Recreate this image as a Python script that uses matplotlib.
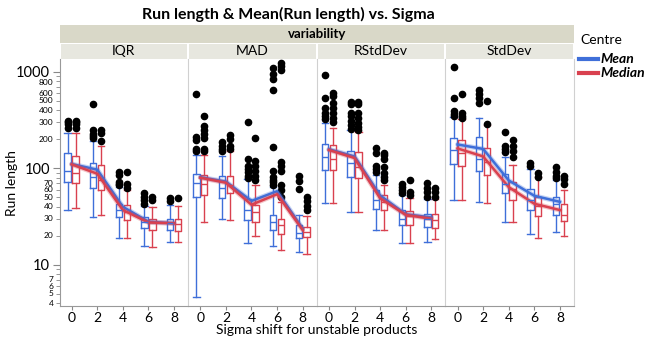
import matplotlib
matplotlib.use('Agg')
import matplotlib.pyplot as plt
from matplotlib.patches import Rectangle
from matplotlib.ticker import FixedLocator, NullFormatter

plt.rcParams['font.family'] = ['Lato', 'DejaVu Sans']

sigma = [0, 2, 4, 6, 8]
panels = ['IQR', 'MAD', 'RStdDev', 'StdDev']

# box stats for each sigma: (whisker low, q1, median, q3, whisker high)
iqr_mean_box = [(37, 73, 94, 145, 232), (31, 63, 82, 114, 193), (19, 31, 37, 43, 64),
                (15.7, 24, 27.5, 31, 41), (17.4, 23, 27, 30, 42)]
iqr_median_box = [(39, 71, 90, 133, 232), (33, 60, 76, 108, 169), (19, 29, 35, 42, 59),
                  (15.5, 23, 27.5, 30, 40), (17.2, 22.7, 26.4, 30, 41)]
mad_mean_box = [(4.6, 51, 71, 88, 136), (30, 49, 62, 83, 135), (16.7, 29, 37, 48, 77),
                (15.7, 23, 28, 33, 64), (13.5, 18.8, 21.5, 26, 33)]
mad_median_box = [(27.5, 53, 69, 86, 138), (29, 55, 67, 83, 150), (20, 28, 35, 42, 68),
                  (14.3, 21, 26, 30, 45), (13, 19.3, 21.7, 24.5, 32)]
rsd_mean_box = [(44, 97, 132, 179, 298), (35, 81, 114, 153, 249), (23, 38, 47, 60, 86),
                (17, 26, 30, 37, 53), (17.4, 24.5, 30, 34, 48)]
rsd_median_box = [(44, 97, 125, 175, 261), (35, 80, 103, 149, 239), (23, 37, 45, 53, 68),
                  (17, 26, 32, 36, 49), (18.4, 24, 29, 34, 48)]
sd_mean_box = [(47, 110, 156, 206, 341), (45, 95, 125, 210, 336), (27.5, 56, 69, 88, 132),
               (21, 37, 47, 61.5, 99), (22, 33, 42.5, 51, 75)]
sd_median_box = [(47, 105, 143, 196, 328), (44, 86, 116, 161, 281), (27.5, 47, 61.5, 72, 109),
                 (18.8, 32, 40.5, 50, 81), (20, 28.6, 33, 43, 60)]

# outliers
iqr_mean_out = [[300, 290, 310, 265], [469, 251, 226, 206, 215], [91, 85, 72, 69, 67],
                [55, 50, 47, 43], [49, 46]]
iqr_median_out = [[300, 310, 290, 265], [251, 231, 193], [91, 69, 62], [50, 47], [49]]
mad_mean_out = [[594, 210, 197, 159, 150], [186, 172, 160, 152], [305, 125, 107, 99, 91, 84, 80],
                [1100, 955, 834, 648, 166, 93, 81, 76, 72, 67], [84, 74, 61.5]]
mad_median_out = [[350, 276, 249, 226, 206, 159, 150], [223, 201, 172, 160],
                  [206, 120, 107, 94, 84, 76], [1238, 1144, 1057, 116, 105, 95, 67, 59, 50],
                  [50, 45.6, 41, 37]]
rsd_mean_out = [[939, 532, 420, 379, 350, 323], [491, 461, 379, 350, 311, 282, 255],
                [163, 143, 107, 99, 91], [69, 64, 59, 55], [70, 63, 57, 51]]
rsd_median_out = [[608, 563, 480, 426, 379, 336, 305], [491, 461, 379, 336, 298, 269, 249],
                  [143, 136, 125, 103, 89, 81, 76], [76, 57, 52.5], [63, 57, 51]]
sd_mean_out = [[1117, 532, 394, 364, 347], [643, 594, 540, 480], [236, 172, 159, 149],
               [113, 107], [103, 91, 84, 80]]
sd_median_out = [[594, 379, 350, 336], [499, 287], [196, 172, 152, 132], [89, 82], [84, 78, 69]]

# Mean(Run length) lines
iqr_mean_line = [111, 97, 40, 28, 27]
iqr_median_line = [110, 88, 37, 27.5, 27]
mad_mean_line = [81, 73, 46, 58, 23.8]
mad_median_line = [80, 71, 42, 54, 23]
rsd_mean_line = [158, 133, 52.5, 33.5, 31]
rsd_median_line = [155, 128, 49, 33, 30]
sd_mean_line = [177, 159, 75, 52, 45]
sd_median_line = [161, 133, 64, 43, 37]

data = {
    'IQR': (iqr_mean_box, iqr_median_box, iqr_mean_out, iqr_median_out, iqr_mean_line, iqr_median_line),
    'MAD': (mad_mean_box, mad_median_box, mad_mean_out, mad_median_out, mad_mean_line, mad_median_line),
    'RStdDev': (rsd_mean_box, rsd_median_box, rsd_mean_out, rsd_median_out, rsd_mean_line, rsd_median_line),
    'StdDev': (sd_mean_box, sd_median_box, sd_mean_out, sd_median_out, sd_mean_line, sd_median_line),
}

blue = '#3F6FD9'
red = '#D9414F'

W, H = 646, 340
fig = plt.figure(figsize=(W / 100, H / 100), dpi=100)

x0, x1 = 59.5, 574
y_top, y_bot = 59.3, 306
pw = (x1 - x0) / 4


def make_stats(boxes, outs):
    res = []
    for b, o in zip(boxes, outs):
        res.append(dict(whislo=b[0], q1=b[1], med=b[2], q3=b[3], whishi=b[4], fliers=o))
    return res


axes = []
for i, name in enumerate(panels):
    ax = fig.add_axes([(x0 + i * pw) / W, 1 - y_bot / H, pw / W, (y_bot - y_top) / H])
    axes.append(ax)
    mbox, dbox, mout, dout, mline, dline = data[name]
    for boxes, outs, col, off in [(mbox, mout, blue, -0.31), (dbox, dout, red, 0.31)]:
        ax.bxp(make_stats(boxes, outs), positions=[s + off for s in sigma], widths=0.5,
               capwidths=0.5, manage_ticks=False,
               boxprops=dict(color=col, lw=1), whiskerprops=dict(color=col, lw=1),
               capprops=dict(color=col, lw=1), medianprops=dict(color=col, lw=1),
               flierprops=dict(marker='o', markerfacecolor='black', markeredgecolor='black',
                               markersize=4.5))
    # Mean(Run length) lines with a soft halo
    ax.plot(sigma, mline, color=blue, lw=3.5, alpha=0.3, solid_capstyle='round')
    ax.plot(sigma, mline, color=blue, lw=1.8)
    ax.plot(sigma, dline, color=red, lw=3.5, alpha=0.3, solid_capstyle='round')
    ax.plot(sigma, dline, color=red, lw=1.8)

    ax.set_yscale('log')
    ax.set_ylim(3.75, 1350)
    ax.set_xlim(-0.95, 9.1)
    ax.set_xticks(sigma)
    ax.set_xticklabels([str(s) for s in sigma], fontsize=10)
    ax.tick_params(axis='x', length=3, color='#888888', pad=1)
    for sp in ['top', 'right']:
        ax.spines[sp].set_visible(False)
    ax.spines['bottom'].set_color('#999999')
    if i == 0:
        ax.spines['left'].set_color('#999999')
    else:
        ax.spines['left'].set_color('#D0D0D0')
        ax.tick_params(axis='y', which='both', left=False, labelleft=False)
    if i == 3:
        ax.spines['right'].set_visible(True)
        ax.spines['right'].set_color('#D0D0D0')

ax = axes[0]
major = [10, 100, 1000]
minor = [4, 5, 6, 7, 8, 9, 20, 30, 40, 50, 60, 70, 80, 90, 200, 300, 400, 500, 600, 700, 800, 900]
ax.yaxis.set_major_locator(FixedLocator(major))
ax.yaxis.set_minor_locator(FixedLocator(minor))
ax.set_yticklabels([str(v) for v in major], fontsize=10.5)
ax.yaxis.set_minor_formatter(NullFormatter())
ax.tick_params(axis='y', which='major', length=5, color='#888888', pad=2)
ax.tick_params(axis='y', which='minor', length=3, color='#888888')
minor_labels = [4, 5, 6, 7, 20, 30, 40, 50, 60, 70, 200, 300, 400, 500, 600, 800]
for v in minor_labels:
    dy = -1 if v == 800 else 0
    ax.annotate(str(v), xy=(0, v), xycoords=('axes fraction', 'data'), xytext=(-4.5, dy),
                textcoords='offset points', ha='right', va='center', fontsize=6)
fig.text(12 / W, 1 - 183 / H, 'Run length', rotation=90, ha='center', va='center', fontsize=10)

# header bands
fig.patches.append(Rectangle((x0 / W, 1 - 42.7 / H), (x1 - x0) / W, 17.7 / H,
                             transform=fig.transFigure, facecolor='#D9D8C8', edgecolor='none'))
fig.text((x0 + x1) / 2 / W, 1 - 34 / H, 'variability', ha='center', va='center',
         fontsize=9.5, fontweight='bold')
for i, name in enumerate(panels):
    fig.patches.append(Rectangle(((x0 + i * pw + 1) / W, 1 - y_top / H), (pw - 2) / W,
                                 (y_top - 43.5) / H, transform=fig.transFigure,
                                 facecolor='#E7E7DF', edgecolor='none'))
    fig.text((x0 + i * pw + pw / 2) / W, 1 - 51 / H, name, ha='center', va='center', fontsize=10)

fig.text(288 / W, 1 - 14 / H, 'Run length & Mean(Run length) vs. Sigma', ha='center', va='center',
         fontsize=11.5, fontweight='bold')
fig.text((x0 + x1) / 2 / W, 1 - 330 / H, 'Sigma shift for unstable products', ha='center',
         va='center', fontsize=10)

# legend
fig.text(580 / W, 1 - 40 / H, 'Centre', ha='left', va='center', fontsize=10)
for yy, lab, col in [(59, 'Mean', blue), (73, 'Median', red)]:
    fig.add_artist(plt.Line2D([579 / W, 598 / W], [1 - yy / H, 1 - yy / H], color=col, lw=3,
                              transform=fig.transFigure))
    fig.text(600 / W, 1 - yy / H, lab, ha='left', va='center', fontsize=10,
             fontweight='bold', fontstyle='italic')

fig.savefig('out.png', dpi=100)
